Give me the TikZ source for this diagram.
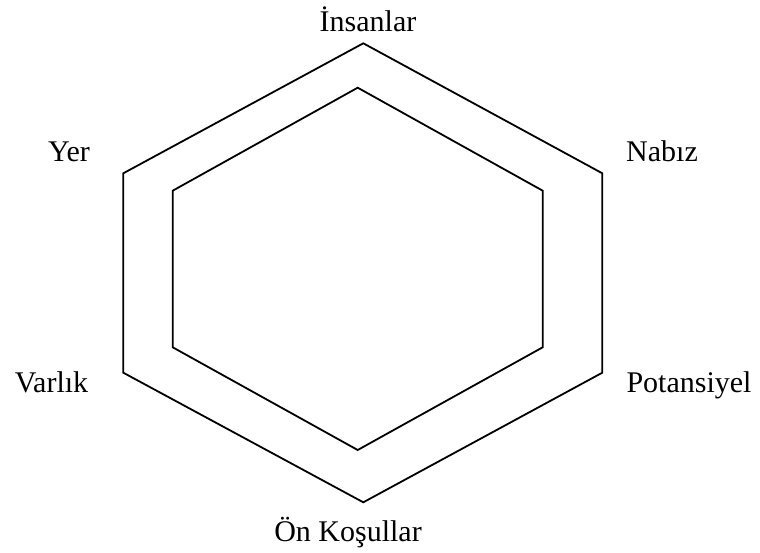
\documentclass[tikz,border=0pt]{standalone}
\usepackage{fontspec}
\setmainfont{Liberation Serif}
\usetikzlibrary{positioning}

\begin{document}
\begin{tikzpicture}[
    x=1pt, y=-1pt,
    every node/.style={font=\fontsize{30}{36}\selectfont},
    lbl/.style={anchor=base, inner sep=0pt},
    hex/.style={draw, line width=1.8pt, line join=miter}
  ]
  \useasboundingbox (0,0) rectangle (760,553);

  % outer hexagon
  \coordinate (o1) at (363.3,43.3);
  \coordinate (o2) at (602.3,173.3);
  \coordinate (o3) at (602.3,372.7);
  \coordinate (o4) at (363.3,502.3);
  \coordinate (o5) at (123.3,372.7);
  \coordinate (o6) at (123.3,173.3);
  \draw[hex] (o1) -- (o2) -- (o3) -- (o4) -- (o5) -- (o6) -- cycle;

  % inner hexagon
  \coordinate (i1) at (357.7,87.7);
  \coordinate (i2) at (542.7,190.7);
  \coordinate (i3) at (542.7,347.3);
  \coordinate (i4) at (357.7,450);
  \coordinate (i5) at (172.7,347.3);
  \coordinate (i6) at (172.7,190.7);
  \draw[hex] (i1) -- (i2) -- (i3) -- (i4) -- (i5) -- (i6) -- cycle;

  % labels
  \node[lbl] (insanlar) at (368,32)  {İnsanlar};
  \node[lbl] (nabiz)    at (662,162) {Nabız};
  \node[lbl] (potans)   at (689,392) {Potansiyel};
  \node[lbl] (onkosul)  at (348,541) {Ön Koşullar};
  \node[lbl] (varlik)   at (51.5,392) {Varlık};
  \node[lbl] (yer)      at (69,162)  {Yer};
\end{tikzpicture}
\end{document}
